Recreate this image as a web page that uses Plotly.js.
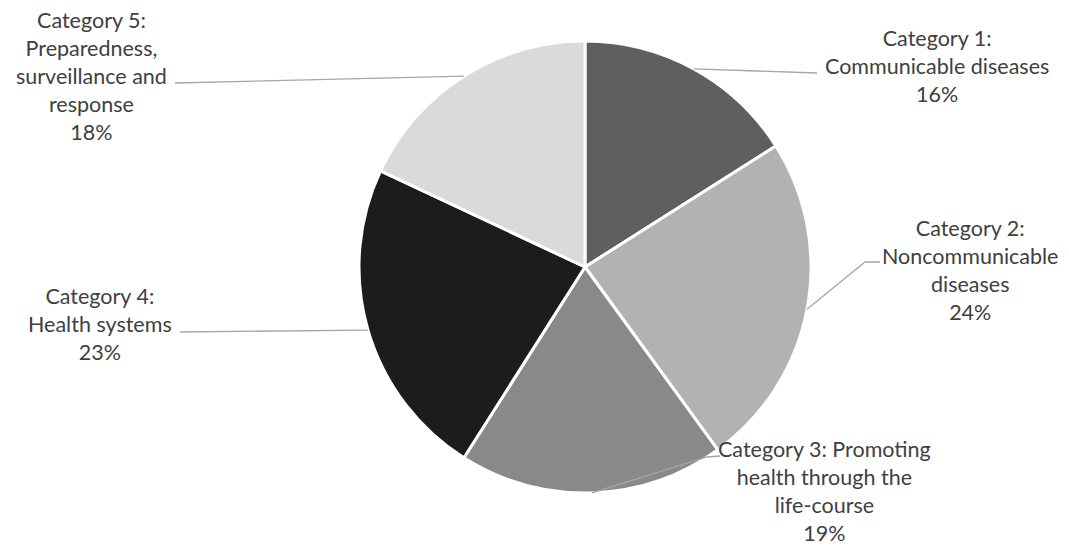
<!DOCTYPE html>
<html>
<head>
<meta charset="utf-8">
<script src="https://cdn.plot.ly/plotly-3.0.1.min.js"></script>
<style>html,body{margin:0;padding:0;background:#fff;}#chart{width:1069px;height:549px;}</style>
</head>
<body>
<div id="chart"></div>
<script>
// ---- data ----
const categories = [
  "Category 1: Communicable diseases",
  "Category 2: Noncommunicable diseases",
  "Category 3: Promoting health through the life-course",
  "Category 4: Health systems",
  "Category 5: Preparedness, surveillance and response"
];
const values = [16, 24, 19, 23, 18];
const labelTexts = [
  "Category 1:<br>Communicable diseases",
  "Category 2:<br>Noncommunicable<br>diseases",
  "Category 3: Promoting<br>health through the<br>life-course",
  "Category 4:<br>Health systems",
  "Category 5:<br>Preparedness,<br>surveillance and<br>response"
];
const colors = ["#5f5f5f", "#b2b2b2", "#898989", "#1c1c1c", "#dadada"];

// ---- layout geometry (pixels) ----
const W = 1069, H = 549;
const cx = 585, cy = 267, R = 226;
// label block centres and leader-line elbows
const labelPos = [[937, 66], [970, 270], [824, 491], [100, 324], [91, 76]];
const elbows = [
  [[817, 73]],
  [[865, 262], [880, 262]],
  [[707, 457], [720, 456]],
  [[180, 332]],
  [[175, 83]]
];

const px = x => x / W;
const py = y => 1 - y / H;

const total = values.reduce((a, b) => a + b, 0);
let cum = 0;
const shapes = [], annotations = [];
values.forEach((v, i) => {
  const a = 2 * Math.PI * (cum + v / 2) / total;
  cum += v;
  const sx = cx + R * Math.sin(a), sy = cy - R * Math.cos(a);
  let d = `M ${px(sx)} ${py(sy)}`;
  elbows[i].forEach(p => { d += ` L ${px(p[0])} ${py(p[1])}`; });
  shapes.push({type: 'path', xref: 'paper', yref: 'paper', path: d,
    line: {color: '#a6a6a6', width: 1.3}});
  const pct = Math.round(100 * v / total) + '%';
  annotations.push({
    xref: 'paper', yref: 'paper', x: px(labelPos[i][0]), y: py(labelPos[i][1]),
    xanchor: 'center', yanchor: 'middle', align: 'center', showarrow: false,
    text: labelTexts[i] + '<br>' + pct,
    font: {family: 'Lato, "Open Sans", sans-serif', size: 21.5, color: '#404040'}
  });
});

const trace = {
  type: 'pie',
  labels: categories,
  values: values,
  sort: false,
  direction: 'clockwise',
  rotation: 0,
  textinfo: 'none',
  hoverinfo: 'label+percent',
  marker: {colors: colors, line: {color: '#ffffff', width: 3}},
  domain: {x: [px(cx - R), px(cx + R)], y: [py(cy + R), py(cy - R)]},
  showlegend: false
};

const layout = {
  width: W, height: H,
  margin: {l: 0, r: 0, t: 0, b: 0},
  paper_bgcolor: '#ffffff',
  shapes: shapes,
  annotations: annotations,
  showlegend: false
};

Plotly.newPlot('chart', [trace], layout, {displayModeBar: false, staticPlot: true});
</script>
</body>
</html>
